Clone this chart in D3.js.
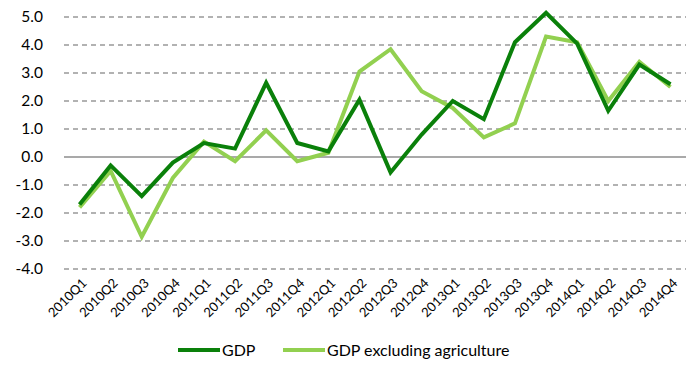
<!DOCTYPE html>
<html>
<head>
<meta charset="utf-8">
<script src="https://cdn.jsdelivr.net/npm/d3@7"></script>
<style>
  body { margin: 0; background: #fff; }
  text { font-family: Lato, "Open Sans", sans-serif; fill: #000; }
</style>
</head>
<body>
<svg width="694" height="374"></svg>
<script>
// quarters on the x axis
const quarters = ["2010Q1","2010Q2","2010Q3","2010Q4","2011Q1","2011Q2","2011Q3","2011Q4",
  "2012Q1","2012Q2","2012Q3","2012Q4","2013Q1","2013Q2","2013Q3","2013Q4",
  "2014Q1","2014Q2","2014Q3","2014Q4"];

// GDP growth (dark green)
const gdp = [-1.7, -0.3, -1.4, -0.2, 0.5, 0.3, 2.65, 0.5, 0.2, 2.05, -0.55, 0.8,
  2.0, 1.35, 4.1, 5.15, 4.05, 1.65, 3.3, 2.6];

// GDP excluding agriculture (light green)
const gdpExAgri = [-1.8, -0.5, -2.85, -0.75, 0.55, -0.15, 0.95, -0.15, 0.15, 3.05, 3.85, 2.35,
  1.75, 0.7, 1.2, 4.3, 4.1, 2.0, 3.4, 2.5];

const yTicks = [-4, -3, -2, -1, 0, 1, 2, 3, 4, 5];

const series = [
  {name: "GDP", values: gdp, color: "#0a800a"},
  {name: "GDP excluding agriculture", values: gdpExAgri, color: "#92d050"}
];

let svg = d3.select("svg");
let margin = {top: 17, left: 64, right: 8};
let w = 694 - margin.left - margin.right;

let x = d3.scaleBand().domain(quarters).range([margin.left, margin.left + w]);
let y = d3.scaleLinear().domain([-4, 5]).range([margin.top + 252, margin.top]);

// gridlines
svg.append("g")
  .selectAll("line")
  .data(yTicks)
  .enter().append("line")
  .attr("x1", margin.left)
  .attr("x2", margin.left + w)
  .attr("y1", d => y(d))
  .attr("y2", d => y(d))
  .attr("stroke", d => d === 0 ? "#8c8c8c" : "#999")
  .attr("stroke-width", 1.3)
  .attr("stroke-dasharray", d => d === 0 ? null : "5,4");

// y labels
let yAxis = svg.append("g")
  .attr("transform", "translate(46,0)")
  .call(d3.axisLeft(y).tickValues(yTicks).tickSize(0));
yAxis.select(".domain").remove();
yAxis.selectAll("text")
  .attr("font-size", 15.5)
  .attr("font-family", "Lato, sans-serif")
  .attr("fill", "#000")
  .text(d => d3.format(".1f")(d).replace("−", "-"));

// x labels, rotated
let xAxis = svg.append("g")
  .attr("transform", "translate(0,0)");
xAxis.selectAll("text")
  .data(quarters)
  .enter().append("text")
  .attr("font-size", 13)
  .attr("font-family", "Lato, sans-serif")
  .attr("text-anchor", "end")
  .attr("transform", d => `translate(${x(d) + x.bandwidth() / 2 + 8},${y(-4) + 15}) rotate(-45)`)
  .text(d => d);

// lines
let line = d3.line()
  .x((d, i) => x(quarters[i]) + x.bandwidth() / 2)
  .y(d => y(d));

svg.append("g")
  .selectAll("path")
  .data(series.slice().reverse())
  .enter().append("path")
  .attr("d", d => line(d.values))
  .attr("fill", "none")
  .attr("stroke", d => d.color)
  .attr("stroke-width", 4)
  .attr("stroke-linejoin", "miter");

// legend
let legend = svg.append("g").attr("transform", "translate(0,350)");
let legendX = [178, 283];
series.forEach((s, i) => {
  legend.append("line")
    .attr("x1", legendX[i]).attr("x2", legendX[i] + 42)
    .attr("y1", 0).attr("y2", 0)
    .attr("stroke", s.color).attr("stroke-width", 4);
  legend.append("text")
    .attr("x", legendX[i] + 44)
    .attr("y", 0)
    .attr("dy", "0.35em")
    .attr("font-size", 16)
    .text(s.name);
});
</script>
</body>
</html>
